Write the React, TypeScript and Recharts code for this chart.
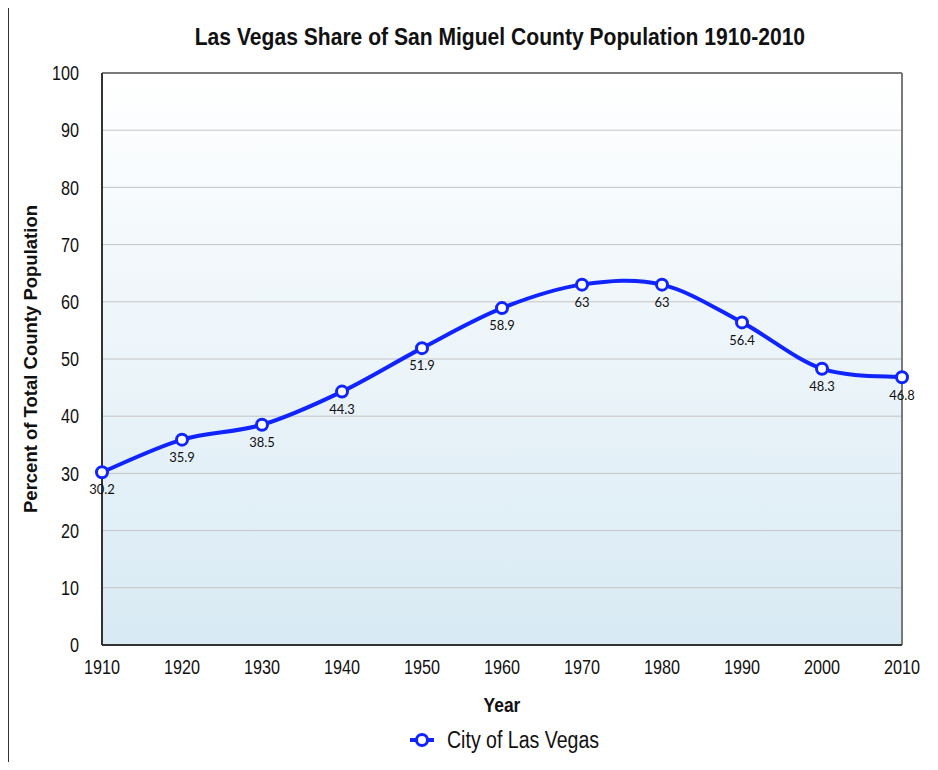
import React from 'react';
import { LineChart, Line, XAxis, YAxis, CartesianGrid, Legend, ReferenceLine, LabelList } from 'recharts';

const years = [1910, 1920, 1930, 1940, 1950, 1960, 1970, 1980, 1990, 2000, 2010];
const shares = [30.2, 35.9, 38.5, 44.3, 51.9, 58.9, 63, 63, 56.4, 48.3, 46.8];
const yTicks = [0, 10, 20, 30, 40, 50, 60, 70, 80, 90, 100];

const title = 'Las Vegas Share of San Miguel County Population 1910-2010';
const seriesName = 'City of Las Vegas';
const xTitle = 'Year';
const yTitle = 'Percent of Total County Population';

const sans = '"Liberation Sans", Arial, sans-serif';
const blue = '#1024ff';

const chartData = years.map((y, i) => ({ year: y, share: shares[i] }));

// smooth curve through every point (catmull-rom style, like office charts)
const smoothCurve = (context: any) => {
  let pts: number[][] = [];
  return {
    areaStart() {},
    areaEnd() {},
    lineStart() {
      pts = [];
    },
    point(x: number, y: number) {
      pts.push([+x, +y]);
    },
    lineEnd() {
      const n = pts.length;
      if (!n) return;
      context.moveTo(pts[0][0], pts[0][1]);
      for (let i = 0; i < n - 1; i++) {
        const p0 = pts[Math.max(i - 1, 0)];
        const p1 = pts[i];
        const p2 = pts[i + 1];
        const p3 = pts[Math.min(i + 2, n - 1)];
        context.bezierCurveTo(
          p1[0] + (p2[0] - p0[0]) / 6,
          p1[1] + (p2[1] - p0[1]) / 6,
          p2[0] - (p3[0] - p1[0]) / 6,
          p2[1] - (p3[1] - p1[1]) / 6,
          p2[0],
          p2[1]
        );
      }
    },
  };
};

// the original uses a condensed face; squeeze regular Liberation Sans instead
const NarrowTick = (props: any) => {
  const { x, y, payload, textAnchor, verticalAnchor } = props;
  const dy = verticalAnchor === 'start' ? '0.71em' : '0.355em';
  return (
    <text
      transform={`translate(${x},${y}) scale(0.81,1)`}
      textAnchor={textAnchor}
      dy={dy}
      fill="#111"
      fontSize={20}
      fontFamily={sans}
    >
      {payload.value}
    </text>
  );
};

const YearLabel = (props: any) => {
  const vb = props.viewBox || {};
  const cx = vb.x + vb.width / 2;
  const by = vb.y + vb.height - 6;
  return (
    <text
      transform={`translate(${cx},${by}) scale(0.83,1)`}
      textAnchor="middle"
      fill="#111"
      fontSize={21}
      fontWeight="bold"
      fontFamily={sans}
    >
      {xTitle}
    </text>
  );
};

const LegendContent = () => (
  <div style={{ height: 44, display: 'flex', alignItems: 'center', paddingLeft: 401, boxSizing: 'border-box' }}>
    <svg width={24} height={16} style={{ marginRight: 13 }}>
      <line x1={0} y1={8} x2={24} y2={8} stroke={blue} strokeWidth={4} />
      <circle cx={12} cy={8} r={5.5} fill="#fff" stroke={blue} strokeWidth={3} />
    </svg>
    <span
      style={{
        display: 'inline-block',
        fontFamily: sans,
        fontSize: 23,
        color: '#111',
        whiteSpace: 'nowrap',
        transform: 'scaleX(0.85)',
        transformOrigin: 'left center',
      }}
    >
      {seriesName}
    </span>
  </div>
);

const App: React.FC = () => {
  return (
    <div
      style={{
        position: 'relative',
        marginLeft: -1,
        marginTop: -2,
        width: 929,
        height: 754,
        borderLeft: '2px solid #333',
        borderTop: '2px solid #333',
      }}
    >
      <svg width={0} height={0} style={{ position: 'absolute' }}>
        <defs>
          <linearGradient id="plotBg" x1="0" y1="0" x2="0" y2="1">
            <stop offset="0%" stopColor="#ffffff" />
            <stop offset="100%" stopColor="#d8eaf4" />
          </linearGradient>
        </defs>
      </svg>
      <div
        style={{
          position: 'absolute',
          left: 0,
          top: 14,
          width: 981,
          textAlign: 'center',
          lineHeight: '30px',
        }}
      >
        <span
          style={{
            display: 'inline-block',
            fontFamily: sans,
            fontWeight: 'bold',
            fontSize: 23.7,
            color: '#111',
            whiteSpace: 'nowrap',
            transform: 'scaleX(0.89)',
          }}
        >
          {title}
        </span>
      </div>
      <LineChart width={929} height={754} data={chartData} margin={{ top: 65, right: 36, left: 0, bottom: 0 }}>
        <CartesianGrid vertical={false} stroke="#c4c4c4" fill="url(#plotBg)" fillOpacity={1} />
        <XAxis
          dataKey="year"
          type="number"
          domain={[1910, 2010]}
          ticks={years}
          height={73}
          tickSize={0}
          tickMargin={15}
          axisLine={{ stroke: '#333', strokeWidth: 2 }}
          tick={<NarrowTick />}
          label={<YearLabel />}
        />
        <YAxis
          domain={[0, 100]}
          ticks={yTicks}
          width={93}
          tickSize={0}
          tickMargin={23}
          axisLine={{ stroke: '#333', strokeWidth: 2 }}
          tick={<NarrowTick />}
          label={{
            value: yTitle,
            angle: -90,
            position: 'insideLeft',
            offset: 21,
            textAnchor: 'middle',
            fill: '#111',
            fontSize: 18.5,
            fontWeight: 'bold',
            fontFamily: sans,
          }}
        />
        <ReferenceLine y={100} stroke="#7a7a7a" strokeWidth={2} />
        <ReferenceLine x={2010} stroke="#7a7a7a" strokeWidth={2} />
        <Legend verticalAlign="bottom" content={LegendContent} />
        <Line
          dataKey="share"
          name={seriesName}
          type={smoothCurve as any}
          stroke={blue}
          strokeWidth={4}
          dot={{ r: 5.5, fill: '#fff', stroke: blue, strokeWidth: 3 }}
          activeDot={false}
          isAnimationActive={false}
        >
          <LabelList dataKey="share" position="bottom" offset={13} fill="#111" fontSize={13} fontFamily="Lato, sans-serif" />
        </Line>
      </LineChart>
    </div>
  );
};

export default App;
